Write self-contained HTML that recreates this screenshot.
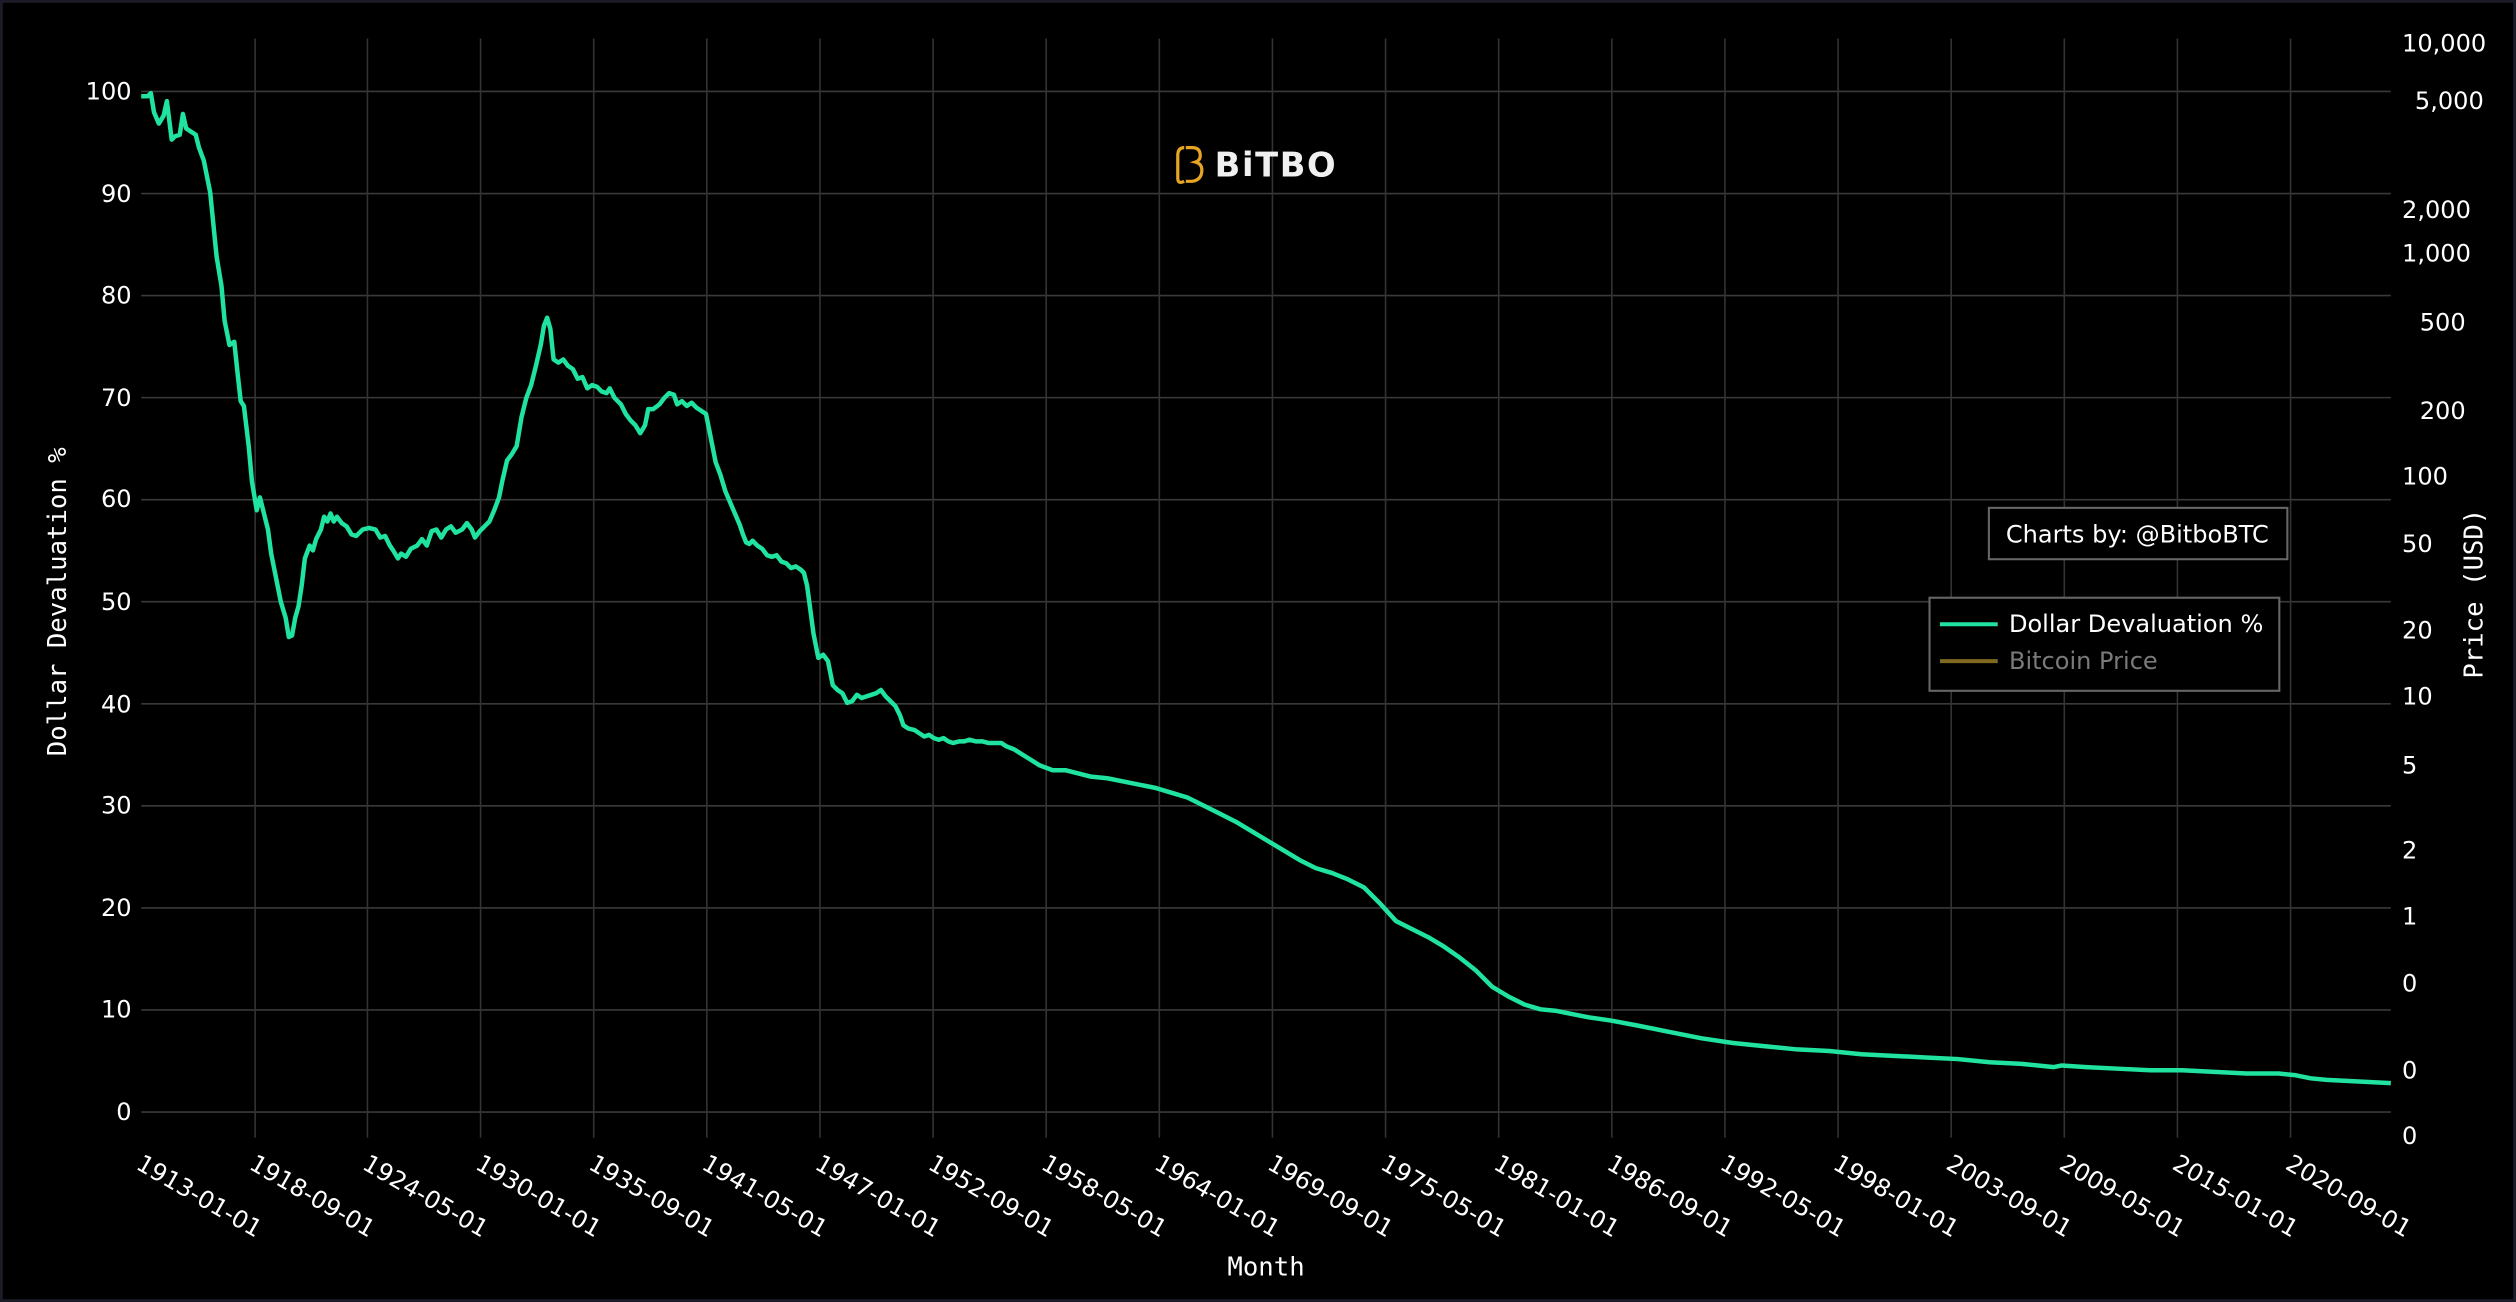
<!DOCTYPE html>
<html><head><meta charset="utf-8"><style>
html,body{margin:0;padding:0;background:#000;}
svg{display:block;}
.t{font-family:"DejaVu Sans","Liberation Sans",sans-serif;fill:#fff;font-size:15px;}
.m{font-family:"DejaVu Sans Mono","Liberation Mono",monospace;fill:#fff;font-size:16px;}
</style></head><body>
<svg width="2516" height="1302" viewBox="0 0 1568 811.4" preserveAspectRatio="none" xmlns="http://www.w3.org/2000/svg">
<rect x="0" y="0" width="1568" height="811.4" fill="#000"/>
<rect x="0.5" y="0.5" width="1567" height="810.4" fill="none" stroke="#1c1c28" stroke-width="2.5"/>
<g stroke="#3a3a3a" stroke-width="1">
<line x1="88" y1="693" x2="1490" y2="693"/>
<line x1="88" y1="629.4" x2="1490" y2="629.4"/>
<line x1="88" y1="565.8" x2="1490" y2="565.8"/>
<line x1="88" y1="502.2" x2="1490" y2="502.2"/>
<line x1="88" y1="438.6" x2="1490" y2="438.6"/>
<line x1="88" y1="375" x2="1490" y2="375"/>
<line x1="88" y1="311.4" x2="1490" y2="311.4"/>
<line x1="88" y1="247.8" x2="1490" y2="247.8"/>
<line x1="88" y1="184.2" x2="1490" y2="184.2"/>
<line x1="88" y1="120.6" x2="1490" y2="120.6"/>
<line x1="88" y1="57" x2="1490" y2="57"/>
</g>
<g stroke="#333" stroke-width="1">
<line x1="159" y1="24" x2="159" y2="709"/><line x1="229" y1="24" x2="229" y2="709"/>
<line x1="299.5" y1="24" x2="299.5" y2="709"/><line x1="370" y1="24" x2="370" y2="709"/>
<line x1="440.5" y1="24" x2="440.5" y2="709"/><line x1="511" y1="24" x2="511" y2="709"/>
<line x1="581.5" y1="24" x2="581.5" y2="709"/><line x1="652" y1="24" x2="652" y2="709"/>
<line x1="722.5" y1="24" x2="722.5" y2="709"/><line x1="793" y1="24" x2="793" y2="709"/>
<line x1="863.5" y1="24" x2="863.5" y2="709"/><line x1="934" y1="24" x2="934" y2="709"/>
<line x1="1004.5" y1="24" x2="1004.5" y2="709"/><line x1="1075" y1="24" x2="1075" y2="709"/>
<line x1="1145.5" y1="24" x2="1145.5" y2="709"/><line x1="1216" y1="24" x2="1216" y2="709"/>
<line x1="1286.5" y1="24" x2="1286.5" y2="709"/><line x1="1357" y1="24" x2="1357" y2="709"/>
<line x1="1427.5" y1="24" x2="1427.5" y2="709"/>
</g>
<g class="t" text-anchor="end">
<text x="82" y="698">0</text><text x="82" y="634">10</text><text x="82" y="571">20</text>
<text x="82" y="507">30</text><text x="82" y="444">40</text><text x="82" y="380">50</text>
<text x="82" y="316">60</text><text x="82" y="253">70</text><text x="82" y="189">80</text>
<text x="82" y="126">90</text><text x="82" y="62">100</text>
</g>
<g class="t">
<text x="1497" y="32">10,000</text><text x="1505" y="68">5,000</text><text x="1497" y="136">2,000</text>
<text x="1497" y="163">1,000</text><text x="1508" y="206">500</text><text x="1508" y="261">200</text>
<text x="1497" y="302">100</text><text x="1497" y="344">50</text><text x="1497" y="398">20</text>
<text x="1497" y="439">10</text><text x="1497" y="482">5</text><text x="1497" y="535">2</text>
<text x="1497" y="576">1</text><text x="1497" y="618">0</text><text x="1497" y="672">0</text>
<text x="1497" y="713">0</text>
</g>
<g class="t">
<text transform="translate(84,728) rotate(30)">1913-01-01</text>
<text transform="translate(154.5,728) rotate(30)">1918-09-01</text>
<text transform="translate(225,728) rotate(30)">1924-05-01</text>
<text transform="translate(295.5,728) rotate(30)">1930-01-01</text>
<text transform="translate(366,728) rotate(30)">1935-09-01</text>
<text transform="translate(436.5,728) rotate(30)">1941-05-01</text>
<text transform="translate(507,728) rotate(30)">1947-01-01</text>
<text transform="translate(577.5,728) rotate(30)">1952-09-01</text>
<text transform="translate(648,728) rotate(30)">1958-05-01</text>
<text transform="translate(718.5,728) rotate(30)">1964-01-01</text>
<text transform="translate(789,728) rotate(30)">1969-09-01</text>
<text transform="translate(859.5,728) rotate(30)">1975-05-01</text>
<text transform="translate(930,728) rotate(30)">1981-01-01</text>
<text transform="translate(1000.5,728) rotate(30)">1986-09-01</text>
<text transform="translate(1071,728) rotate(30)">1992-05-01</text>
<text transform="translate(1141.5,728) rotate(30)">1998-01-01</text>
<text transform="translate(1212,728) rotate(30)">2003-09-01</text>
<text transform="translate(1282.5,728) rotate(30)">2009-05-01</text>
<text transform="translate(1353,728) rotate(30)">2015-01-01</text>
<text transform="translate(1423.5,728) rotate(30)">2020-09-01</text>
</g>
<text class="m" x="789" y="795" text-anchor="middle">Month</text>
<text class="m" transform="translate(41,375) rotate(-90)" text-anchor="middle">Dollar Devaluation %</text>
<text class="m" transform="translate(1547,370) rotate(-90)" text-anchor="middle">Price (USD)</text>
<g>
<path d="M738 92 q-4 0 -4 5 v14 q0 4 4 2" fill="none" stroke="#e8a524" stroke-width="2"/>
<path d="M739 92 h4 q5 0 5 5 q0 3 -3 4 q4 1 4 5 q0 6 -6 7 h-4" fill="none" stroke="#e8a524" stroke-width="2"/>
<text x="757" y="110" font-family="DejaVu Sans,Liberation Sans,sans-serif" font-weight="bold" font-size="21" fill="#f0f0f0" letter-spacing="1">BiTBO</text>
</g>
<path fill="none" stroke="#1fe39e" stroke-width="2.8" stroke-linejoin="round" d="M88,60 L92,60 L94,58 L96,70 L99,77 L102,72 L104,63 L107,87 L109,85 L112,84 L114,71 L116,80 L119,82 L122,84 L124,92 L127,100 L131,120 L135,160 L138,178 L140,200 L143,215 L146,213 L148,232 L150,250 L152,253 L155,278 L157,300 L160,318 L162,310 L165,322 L167,330 L169,345 L172,360 L175,375 L178,385 L180,397 L182,396 L184,385 L186,378 L188,365 L190,348 L193,340 L195,343 L197,336 L200,330 L202,322 L204,325 L206,320 L208,325 L210,322 L213,326 L216,328 L219,333 L222,334 L226,330 L230,329 L234,330 L237,335 L240,334 L243,340 L245,343 L248,348 L250,345 L253,347 L256,342 L260,340 L263,336 L266,340 L269,331 L272,330 L275,335 L278,330 L281,328 L284,332 L288,330 L291,326 L294,330 L296,335 L299,331 L302,328 L305,325 L308,318 L311,310 L313,300 L316,287 L319,283 L322,278 L325,260 L328,248 L331,240 L334,228 L337,215 L339,203 L341,198 L343,205 L345,224 L348,226 L351,224 L354,228 L357,230 L360,236 L363,235 L366,242 L369,240 L372,241 L375,244 L378,245 L380,242 L383,248 L387,252 L390,258 L393,262 L396,265 L399,270 L402,265 L404,255 L407,255 L411,252 L414,248 L417,245 L420,246 L422,252 L425,250 L428,253 L431,251 L434,254 L437,256 L440,258 L443,273 L446,288 L449,296 L452,306 L455,313 L458,320 L461,327 L463,333 L465,338 L467,339 L469,337 L472,340 L475,342 L478,346 L481,347 L484,346 L487,350 L490,351 L493,354 L496,353 L499,355 L501,357 L503,365 L505,380 L507,395 L510,410 L513,408 L516,412 L519,427 L522,430 L525,432 L528,438 L531,437 L534,433 L537,435 L540,434 L543,433 L546,432 L549,430 L552,434 L555,437 L558,440 L561,446 L563,452 L566,454 L570,455 L573,457 L576,459 L579,458 L582,460 L585,461 L588,460 L591,462 L594,463 L598,462 L601,462 L604,461 L608,462 L612,462 L616,463 L620,463 L624,463 L627,465 L632,467 L640,472 L648,477 L656,480 L664,480 L672,482 L680,484 L690,485 L700,487 L710,489 L720,491 L730,494 L740,497 L750,502 L760,507 L770,512 L780,518 L790,524 L800,530 L810,536 L820,541 L830,544 L840,548 L850,553 L855,558 L860,563 L870,574 L880,579 L890,584 L900,590 L910,597 L920,605 L930,615 L940,621 L950,626 L960,629 L970,630 L990,634 L1004,636 L1020,639 L1040,643 L1060,647 L1080,650 L1100,652 L1120,654 L1140,655 L1160,657 L1180,658 L1200,659 L1220,660 L1240,662 L1260,663 L1280,665 L1285,664 L1300,665 L1320,666 L1340,667 L1360,667 L1380,668 L1400,669 L1420,669 L1430,670 L1440,672 L1450,673 L1470,674 L1490,675"/>
<rect x="1239.5" y="316.5" width="186" height="32" fill="#000" stroke="#666" stroke-width="1.3"/>
<text class="t" x="1332" y="338" text-anchor="middle">Charts by: @BitboBTC</text>
<rect x="1202.5" y="372.5" width="218" height="58" fill="#000" stroke="#666" stroke-width="1.3"/>
<line x1="1209" y1="389" x2="1245" y2="389" stroke="#1fe39e" stroke-width="2.5"/>
<text class="t" x="1252" y="394">Dollar Devaluation %</text>
<line x1="1209" y1="412" x2="1245" y2="412" stroke="#7f6a20" stroke-width="2.5"/>
<text class="t" x="1252" y="417" style="fill:#7a7a7a">Bitcoin Price</text>
</svg>
</body></html>
